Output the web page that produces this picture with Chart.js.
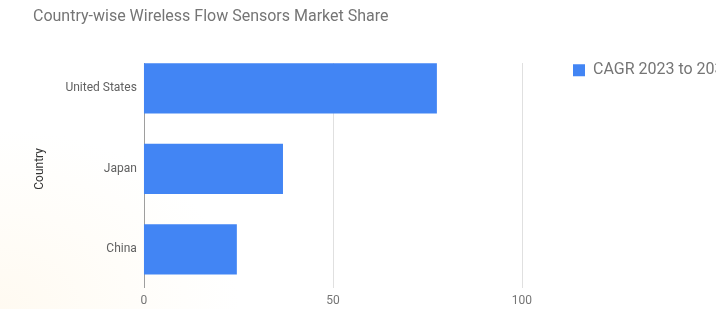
<!DOCTYPE html>
<html>
<head>
<meta charset="utf-8">
<script src="https://cdn.jsdelivr.net/npm/chart.js@4/dist/chart.umd.min.js"></script>
<style>
  html, body { margin: 0; padding: 0; overflow: hidden; }
  body {
    width: 716px; height: 309px;
    background: radial-gradient(ellipse 240px 180px at 0% 100%, #fffaf1 0%, #fffdf9 55%, #ffffff 100%);
  }
  #wrap { position: relative; width: 716px; height: 309px; }
</style>
</head>
<body>
<div id="wrap"><canvas id="myChart" width="716" height="309"></canvas></div>
<script>
const countries = ['United States', 'Japan', 'China'];
const cagrValues = [77.5, 36.8, 24.6];
const seriesLabel = 'CAGR 2023 to 2033';
const xTicks = [0, 50, 100];

// gridlines only over the band google-style charts use
const gridPlugin = {
    id: 'shortGrid',
    beforeDatasetsDraw(chart) {
        const c = chart.ctx;
        const x = chart.scales.x;
        const top = 63, bottom = 288;
        c.save();
        xTicks.forEach(v => {
            const px = Math.round(x.getPixelForValue(v)) + 0.5;
            c.strokeStyle = v === 0 ? '#9e9e9e' : '#e0e0e0';
            c.lineWidth = 1;
            c.beginPath();
            c.moveTo(px, top);
            c.lineTo(px, bottom);
            c.stroke();
        });
        c.restore();
    }
};

const ctx = document.getElementById('myChart').getContext('2d');

const myChart = new Chart(ctx, {
    type: 'bar',
    data: {
        labels: countries,
        datasets: [{
            label: seriesLabel,
            data: cagrValues,
            backgroundColor: '#4285f4',
            borderWidth: 0,
            barPercentage: 0.625,
            categoryPercentage: 1
        }]
    },
    plugins: [gridPlugin],
    options: {
        indexAxis: 'y',
        responsive: false,
        animation: false,
        devicePixelRatio: 1,
        layout: { padding: { left: 33, right: 0, top: 7, bottom: -3 } },
        plugins: {
            title: {
                display: true,
                text: 'Country-wise Wireless Flow Sensors Market Share',
                align: 'start',
                color: '#757575',
                font: { family: 'Roboto', size: 16, weight: 'normal' },
                padding: { top: 0, bottom: 22 }
            },
            legend: {
                position: 'right',
                align: 'start',
                fullSize: false,
                maxWidth: 153,
                title: {
                    display: true,
                    text: '',
                    font: { size: 1, lineHeight: 1 },
                    padding: { top: 3, bottom: 0 }
                },
                labels: {
                    boxWidth: 12,
                    boxHeight: 12,
                    padding: 10,
                    color: '#757575',
                    font: { family: 'Roboto', size: 16 }
                }
            },
            tooltip: { enabled: false }
        },
        scales: {
            x: {
                min: 0,
                max: 110.85,
                border: { display: false },
                grid: { display: false, drawTicks: false, tickLength: 0 },
                ticks: {
                    stepSize: 50,
                    includeBounds: false,
                    maxRotation: 0,
                    padding: 4,
                    color: '#757575',
                    font: { family: 'Roboto', size: 12 }
                },
                afterBuildTicks(axis) {
                    axis.ticks = xTicks.map(v => ({ value: v }));
                }
            },
            y: {
                border: { display: false },
                grid: { display: false, drawTicks: false, tickLength: 0 },
                ticks: {
                    padding: 7,
                    color: '#616161',
                    font: { family: 'Roboto', size: 12 }
                },
                title: {
                    display: true,
                    text: 'Country',
                    color: '#333333',
                    font: { family: 'Roboto', size: 12 },
                    padding: { top: 0, bottom: 11 }
                }
            }
        }
    }
});
</script>
</body>
</html>
